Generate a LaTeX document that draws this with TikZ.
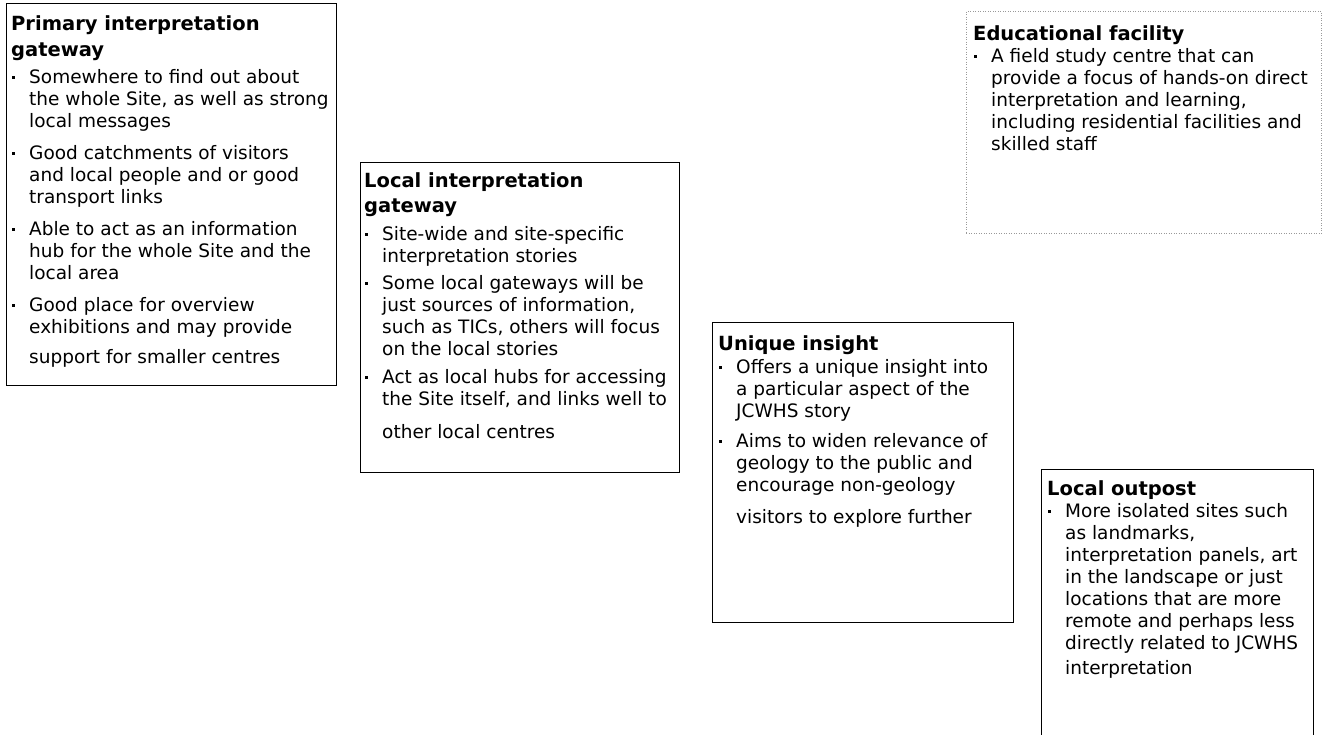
\documentclass[tikz,border=0pt]{standalone}
\usepackage{fontspec}
\setmainfont{DejaVu Sans}
\usetikzlibrary{positioning}
\tikzset{panel/.style={rectangle,draw,line width=1.3pt,inner sep=0pt,anchor=north west},}
\tikzset{dotted panel/.style={rectangle,draw=black!40,line width=0.9pt,dash pattern=on 0.9pt off 1.6pt,inner sep=0pt,anchor=north west},}
\tikzset{blurb/.style={align=left,inner sep=0pt,font=\fontsize{18.5}{22}\selectfont},}
\newcommand{\boxhead}[1]{{\fontsize{19.5}{22}\selectfont\bfseries #1}}
\newcommand{\bitem}{\makebox[18pt][l]{\hspace{1pt}\rule[4.5pt]{2.6pt}{2.6pt}}}
\newcommand{\bnext}{\hspace*{18pt}}

\begin{document}
\begin{tikzpicture}[x=1pt,y=-1pt]
       \useasboundingbox (0,0) rectangle (1324,735);
       \clip (0,0) rectangle (1324,735);

       \node[panel,minimum width=330pt,minimum height=382pt] (primary) at (6,3) {};
       \node[panel,minimum width=319pt,minimum height=310pt] (gateway) at (360,162) {};
       \node[panel,minimum width=301pt,minimum height=300pt] (insight) at (712,322) {};
       \node[panel,minimum width=272pt,minimum height=280pt] (outpost) at (1041,469) {};
       \node[dotted panel,minimum width=355pt,minimum height=222pt] (facility) at (966,11) {};

       \node[blurb] (primarytext) [below right=12.2pt and 5pt of primary.north west]
       {\boxhead{Primary interpretation}\\[4pt]
        \boxhead{gateway}\\[5pt]
        \bitem Somewhere to find out about\\
        \bnext the whole Site, as well as strong\\
        \bnext local messages\\[10pt]
        \bitem Good catchments of visitors\\
        \bnext and local people and or good\\
        \bnext transport links\\[10pt]
        \bitem Able to act as an information\\
        \bnext hub for the whole Site and the\\
        \bnext local area\\[10pt]
        \bitem Good place for overview\\
        \bnext exhibitions and may provide\\[8pt]
        \bnext support for smaller centres};

       \node[blurb] (gatewaytext) [below right=10.2pt and 4pt of gateway.north west]
       {\boxhead{Local interpretation}\\[3pt]
        \boxhead{gateway}\\[6pt]
        \bitem Site-wide and site-specific\\
        \bnext interpretation stories\\[5pt]
        \bitem Some local gateways will be\\
        \bnext just sources of information,\\
        \bnext such as TICs, others will focus\\
        \bnext on the local stories\\[6pt]
        \bitem Act as local hubs for accessing\\
        \bnext the Site itself, and links well to\\[11pt]
        \bnext other local centres};

       \node[blurb] (insighttext) [below right=13.2pt and 6pt of insight.north west]
       {\boxhead{Unique insight}\\[1pt]
        \bitem Offers a unique insight into\\
        \bnext a particular aspect of the\\
        \bnext JCWHS story\\[8pt]
        \bitem Aims to widen relevance of\\
        \bnext geology to the public and\\
        \bnext encourage non-geology\\[10pt]
        \bnext visitors to explore further};

       \node[blurb] (outposttext) [below right=11.2pt and 6pt of outpost.north west]
       {\boxhead{Local outpost}\\
        \bitem More isolated sites such\\
        \bnext as landmarks,\\
        \bnext interpretation panels, art\\
        \bnext in the landscape or just\\
        \bnext locations that are more\\
        \bnext remote and perhaps less\\
        \bnext directly related to JCWHS\\[3pt]
        \bnext interpretation};

       \node[blurb] (facilitytext) [below right=14.2pt and 7pt of facility.north west]
       {\boxhead{Educational facility}\\
        \bitem A field study centre that can\\
        \bnext provide a focus of hands-on direct\\
        \bnext interpretation and learning,\\
        \bnext including residential facilities and\\
        \bnext skilled staff};
    \end{tikzpicture}
\end{document}
